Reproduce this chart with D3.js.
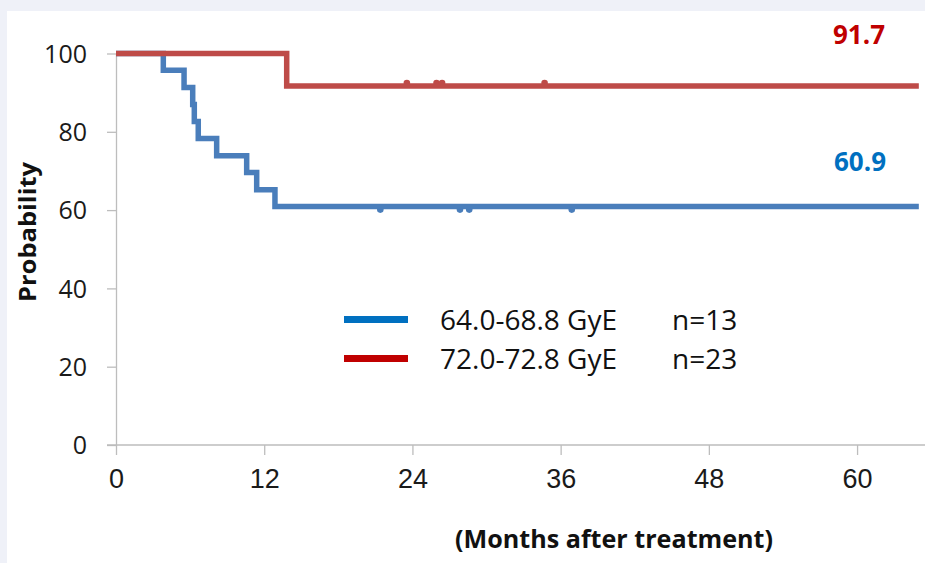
<!DOCTYPE html>
<html>
<head>
<meta charset="utf-8">
<script src="https://cdn.jsdelivr.net/npm/d3@7/dist/d3.min.js"></script>
<style>
  html, body { margin: 0; padding: 0; background: #eff1f8; }
  svg { display: block; }
</style>
</head>
<body>
<svg id="chart" width="925" height="563"></svg>
<script>
// ---- data ----
const xTicks = [0, 12, 24, 36, 48, 60];
const yTicks = [0, 20, 40, 60, 80, 100];

const blueTimes = [0, 3.83, 5.51, 6.21, 6.34, 6.66, 8.15, 10.58, 11.39, 12.87, 65.0];
const blueSurv  = [100, 95.7, 91.3, 87.0, 82.6, 78.3, 73.9, 69.6, 65.2, 60.9, 60.9];
const blueCensor = [21.4, 27.85, 28.6, 36.9];

const redTimes = [0, 13.82, 65.0];
const redSurv  = [100, 91.7, 91.7];
const redCensor = [23.55, 25.95, 26.4, 34.7];

const seriesNames = ["64.0-68.8 GyE", "72.0-72.8 GyE"];
const seriesN = ["n=13", "n=23"];
const endLabels = ["60.9", "91.7"];

const xTitle = "(Months after treatment)";
const yTitle = "Probability";

// ---- drawing ----
const svg = d3.select("#chart");
svg.append("rect").attr("x", 7).attr("y", 11).attr("width", 925 - 7).attr("height", 563 - 11).attr("fill", "#ffffff");

const x = d3.scaleLinear().domain([0, 65.5]).range([116, 925]);
const y = d3.scaleLinear().domain([0, 100]).range([445, 53.5]);

const axisColor = "#bdbdbd";

// y axis
const gy = svg.append("g").attr("transform", "translate(116,0)")
  .call(d3.axisLeft(y).tickValues(yTicks).tickSize(9).tickPadding(20).tickSizeOuter(0));
gy.select(".domain").attr("stroke", axisColor).attr("stroke-width", 1.3);
gy.selectAll(".tick line").attr("stroke", axisColor).attr("stroke-width", 1.3);
gy.selectAll(".tick text").attr("fill", "#1a1a1a")
  .style("font-family", "'Open Sans', sans-serif").style("font-size", "25px")
  .attr("dy", "0.35em");

// x axis
const gx = svg.append("g").attr("transform", "translate(0,445)")
  .call(d3.axisBottom(x).tickValues(xTicks).tickSize(10).tickPadding(14).tickSizeOuter(0));
gx.select(".domain").attr("stroke", axisColor).attr("stroke-width", 1.3)
  .attr("d", `M107,0H925`);
gx.selectAll(".tick line").attr("stroke", axisColor).attr("stroke-width", 1.3);
gx.selectAll(".tick text").attr("fill", "#1a1a1a")
  .style("font-family", "'Liberation Sans', Arial, sans-serif").style("font-size", "27px")
  .attr("dy", "0.71em");

// titles
svg.append("text").attr("x", 614).attr("y", 548).attr("text-anchor", "middle")
  .attr("textLength", 318).attr("lengthAdjust", "spacingAndGlyphs")
  .style("font-family", "'Open Sans', sans-serif").style("font-weight", "bold").style("font-size", "25px")
  .attr("fill", "#111").text(xTitle);

svg.append("text").attr("transform", "translate(36,232) rotate(-90)").attr("text-anchor", "middle")
  .attr("textLength", 140).attr("lengthAdjust", "spacingAndGlyphs")
  .style("font-family", "'Open Sans', sans-serif").style("font-weight", "bold").style("font-size", "23px")
  .attr("fill", "#111").text(yTitle);

// curves
const stepLine = d3.line().x(d => x(d[0])).y(d => y(d[1])).curve(d3.curveStepAfter);
const blueColor = "#4a7ebb", redColor = "#be4b48";

function drawCurve(times, surv, censor, color, dir) {
  const pts = times.map((t, i) => [t, surv[i]]);
  svg.append("g").selectAll("circle").data(censor).join("circle")
    .attr("cx", d => x(d))
    .attr("cy", d => {
      let v = surv[0];
      for (let i = 0; i < times.length; i++) if (times[i] <= d) v = surv[i];
      return y(v) + dir * 3;
    })
    .attr("r", 3.3).attr("fill", color);
  svg.append("path").datum(pts).attr("d", stepLine)
    .attr("fill", "none").attr("stroke", color).attr("stroke-width", 5.5)
    .attr("stroke-linejoin", "miter");
}
drawCurve(blueTimes, blueSurv, blueCensor, blueColor, 1);
drawCurve(redTimes, redSurv, redCensor, redColor, -1);

// end labels
svg.append("text").attr("x", 859).attr("y", 44).attr("text-anchor", "middle")
  .style("font-family", "'Open Sans', sans-serif").style("font-weight", "bold").style("font-size", "26px")
  .attr("fill", "#c00000").text(endLabels[1]);
svg.append("text").attr("x", 860).attr("y", 171).attr("text-anchor", "middle")
  .style("font-family", "'Open Sans', sans-serif").style("font-weight", "bold").style("font-size", "26px")
  .attr("fill", "#0070c0").text(endLabels[0]);

// legend
const legendColors = ["#0070c0", "#c00000"];
const legendY = [319.5, 358.5];
const leg = svg.append("g");
seriesNames.forEach((name, i) => {
  leg.append("line").attr("x1", 344).attr("x2", 408).attr("y1", legendY[i]).attr("y2", legendY[i])
    .attr("stroke", legendColors[i]).attr("stroke-width", 7);
  leg.append("text").attr("x", 440).attr("y", legendY[i] + 10.5)
    .style("font-family", "'Open Sans', sans-serif").style("font-size", "28px")
    .attr("fill", "#111").text(name);
  leg.append("text").attr("x", 672).attr("y", legendY[i] + 10.5)
    .style("font-family", "'Open Sans', sans-serif").style("font-size", "28px")
    .attr("fill", "#111").text(seriesN[i]);
});
</script>
</body>
</html>
